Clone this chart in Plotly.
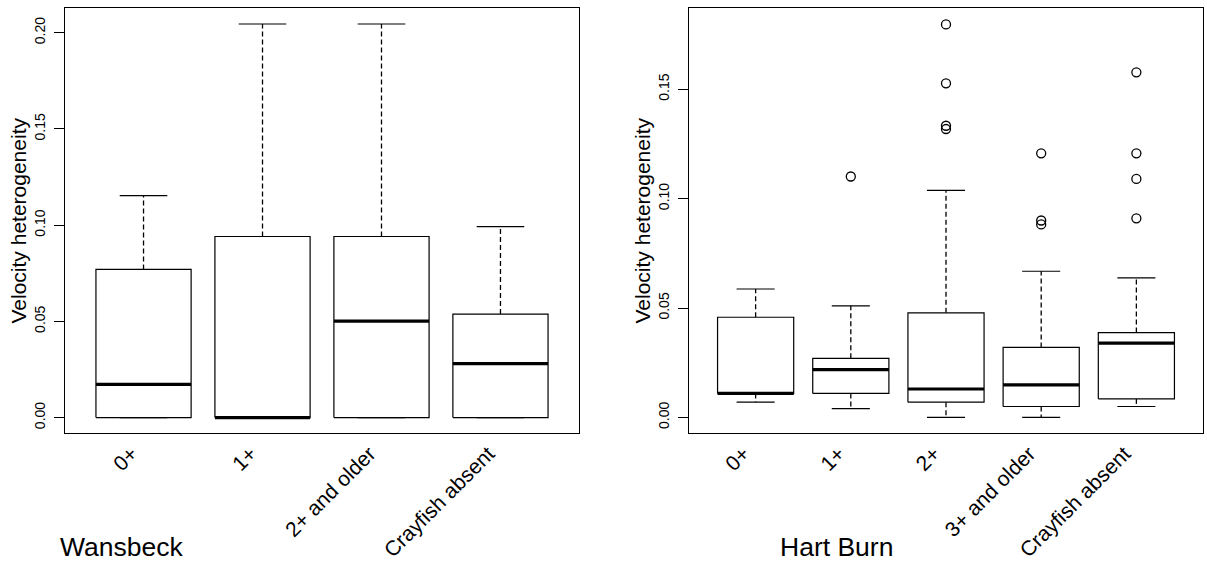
import plotly.graph_objects as go

# ---------------- data ----------------
# Wansbeck
w_cats = ["0+", "1+", "2+ and older", "Crayfish absent"]
w_low = [0.0, 0.0, 0.0, 0.0]
w_q1 = [0.0, 0.0, 0.0, 0.0]
w_med = [0.0173, 0.0, 0.0501, 0.0280]
w_q3 = [0.0770, 0.0941, 0.0941, 0.0538]
w_up = [0.1153, 0.2045, 0.2045, 0.0992]
w_out = [[], [], [], []]

# Hart Burn
h_cats = ["0+", "1+", "2+", "3+ and older", "Crayfish absent"]
h_low = [0.0070, 0.0040, 0.0, 0.0, 0.0050]
h_q1 = [0.0110, 0.0110, 0.0070, 0.0050, 0.0085]
h_med = [0.0110, 0.0219, 0.0130, 0.0149, 0.0340]
h_q3 = [0.0458, 0.0270, 0.0478, 0.0320, 0.0388]
h_up = [0.0587, 0.0510, 0.1038, 0.0668, 0.0638]
h_out = [[], [0.1101], [0.1796, 0.1527, 0.1333, 0.1318], [0.1207, 0.0900, 0.0882],
         [0.1577, 0.1207, 0.1090, 0.0910]]

y_ticks_w = [0.0, 0.05, 0.10, 0.15, 0.20]
y_ticks_h = [0.0, 0.05, 0.10, 0.15]

W, H = 1207, 567
FONT = "Liberation Sans, Arial, sans-serif"

fig = go.Figure()


def add_panel(cats, low, q1, med, q3, up, outs, xa, ya):
    hw = 0.4   # half box width (category units)
    cw = 0.2   # half staple width
    bx, by, mx, my, wx, wy, sx, sy, ox, oy = [], [], [], [], [], [], [], [], [], []
    for i in range(len(cats)):
        c = i + 1
        bx += [c - hw, c + hw, c + hw, c - hw, c - hw, None]
        by += [q1[i], q1[i], q3[i], q3[i], q1[i], None]
        mx += [c - hw, c + hw, None]
        my += [med[i], med[i], None]
        wx += [c, c, None, c, c, None]
        wy += [q3[i], up[i], None, q1[i], low[i], None]
        sx += [c - cw, c + cw, None, c - cw, c + cw, None]
        sy += [up[i], up[i], None, low[i], low[i], None]
        for v in outs[i]:
            ox.append(c)
            oy.append(v)
    common = dict(xaxis=xa, yaxis=ya, showlegend=False, hoverinfo="skip")
    fig.add_trace(go.Scatter(x=wx, y=wy, mode="lines",
                             line=dict(color="black", width=1.3, dash="5px,3px"), **common))
    fig.add_trace(go.Scatter(x=sx, y=sy, mode="lines",
                             line=dict(color="black", width=1.2), **common))
    fig.add_trace(go.Scatter(x=bx, y=by, mode="lines", fill="toself", fillcolor="white",
                             line=dict(color="black", width=1.2), **common))
    fig.add_trace(go.Scatter(x=mx, y=my, mode="lines",
                             line=dict(color="black", width=3.2), **common))
    if ox:
        fig.add_trace(go.Scatter(x=ox, y=oy, mode="markers",
                                 marker=dict(symbol="circle-open", size=9, color="black",
                                             line=dict(width=1.3, color="black")), **common))


add_panel(w_cats, w_low, w_q1, w_med, w_q3, w_up, w_out, "x", "y")
add_panel(h_cats, h_low, h_q1, h_med, h_q3, h_up, h_out, "x2", "y2")

ydom = [(567 - 433) / H, (567 - 8) / H]

xcommon = dict(showgrid=False, zeroline=False, showline=True, mirror=True,
               linecolor="black", linewidth=1.2, ticks="", tickangle=-45,
               tickfont=dict(family=FONT, size=21, color="black"),
               ticklabelstandoff=-1, ticklabelshift=-12, automargin=False, fixedrange=True)
ycommon = dict(showgrid=False, zeroline=False, showline=True, mirror=True,
               linecolor="black", linewidth=1.2, ticks="outside", ticklen=10,
               tickwidth=1, tickcolor="black", tickangle=-90, tickformat=".2f",
               tickfont=dict(family=FONT, size=14, color="black"),
               ticklabelstandoff=3, automargin=False, fixedrange=True)

fig.update_layout(
    width=W, height=H,
    margin=dict(l=0, r=0, t=0, b=0),
    paper_bgcolor="white", plot_bgcolor="white",
    xaxis=dict(domain=[65 / W, 579 / W], range=[0.34, 4.66],
               tickvals=list(range(1, len(w_cats) + 1)), ticktext=w_cats, anchor="y", **xcommon),
    yaxis=dict(domain=ydom, range=[-0.0080, 0.2128], tickvals=y_ticks_w,
               anchor="x", **ycommon),
    xaxis2=dict(domain=[689 / W, 1203 / W], range=[0.3, 5.7],
                tickvals=list(range(1, len(h_cats) + 1)), ticktext=h_cats, anchor="y2", **xcommon),
    yaxis2=dict(domain=ydom, range=[-0.0071, 0.1871], tickvals=y_ticks_h,
                anchor="x2", **ycommon),
    annotations=[
        dict(text="Velocity heterogeneity", textangle=-90, xref="paper", yref="paper",
             x=18 / W, y=(567 - 220.5) / H, xanchor="center", yanchor="middle",
             showarrow=False, font=dict(family=FONT, size=21, color="black")),
        dict(text="Velocity heterogeneity", textangle=-90, xref="paper", yref="paper",
             x=642 / W, y=(567 - 220.5) / H, xanchor="center", yanchor="middle",
             showarrow=False, font=dict(family=FONT, size=21, color="black")),
        dict(text="Wansbeck", xref="paper", yref="paper", x=58 / W, y=(567 - 547) / H,
             xanchor="left", yanchor="middle", showarrow=False,
             font=dict(family=FONT, size=26.5, color="black")),
        dict(text="Hart Burn", xref="paper", yref="paper", x=778 / W, y=(567 - 547) / H,
             xanchor="left", yanchor="middle", showarrow=False,
             font=dict(family=FONT, size=26.5, color="black")),
    ],
)

fig.write_html("out.html", config={"displayModeBar": False, "staticPlot": True},
               post_script="document.body.style.margin='0';")
